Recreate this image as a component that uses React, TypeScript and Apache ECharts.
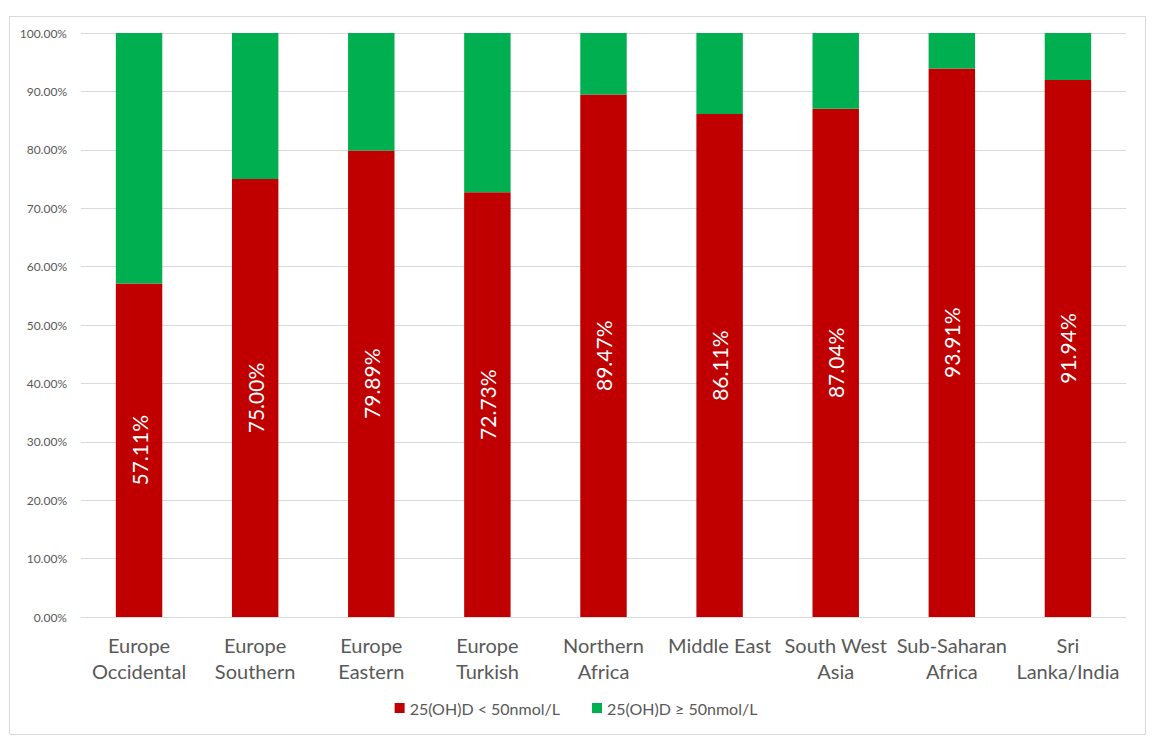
import React, { useEffect, useRef } from "react";
import * as echarts from "echarts";

const categories = [
  "Europe\nOccidental",
  "Europe\nSouthern",
  "Europe\nEastern",
  "Europe\nTurkish",
  "Northern\nAfrica",
  "Middle East",
  "South West\nAsia",
  "Sub-Saharan\nAfrica",
  "Sri\nLanka/India",
];
const below50 = [57.11, 75.0, 79.89, 72.73, 89.47, 86.11, 87.04, 93.91, 91.94];
const above50 = [42.89, 25.0, 20.11, 27.27, 10.53, 13.89, 12.96, 6.09, 8.06];
const seriesNames = ["25(OH)D < 50nmol/L", "25(OH)D ≥ 50nmol/L"];

const FONT = "Lato, 'Open Sans', sans-serif";

export default function App() {
  const ref = useRef<HTMLDivElement>(null);
  useEffect(() => {
    if (!ref.current) return;
    const chart = echarts.init(ref.current, null, { renderer: "svg" });
    chart.setOption({
      animation: false,
      backgroundColor: "#ffffff",
      textStyle: { fontFamily: FONT },
      graphic: [
        {
          type: "rect",
          shape: { x: 9.5, y: 16.5, width: 1136, height: 718 },
          style: { fill: "none", stroke: "#d9d9d9", lineWidth: 1 },
          silent: true,
        },
      ],
      grid: { left: 81, right: 26, top: 33, bottom: 125 },
      legend: {
        bottom: 21,
        left: "center",
        itemWidth: 10,
        itemHeight: 10,
        itemGap: 32,
        icon: "rect",
        textStyle: { color: "#595959", fontSize: 16, fontFamily: FONT },
        data: seriesNames,
      },
      xAxis: {
        type: "category",
        data: categories,
        axisLine: { lineStyle: { color: "#d9d9d9" } },
        axisTick: { show: false },
        axisLabel: {
          color: "#595959",
          fontSize: 20,
          lineHeight: 26,
          margin: 15,
          fontFamily: FONT,
          interval: 0,
        },
      },
      yAxis: {
        type: "value",
        min: 0,
        max: 100,
        interval: 10,
        axisLine: { show: false },
        axisTick: { show: false },
        splitLine: { lineStyle: { color: "#d9d9d9" } },
        axisLabel: {
          color: "#595959",
          fontSize: 12,
          margin: 14,
          fontFamily: FONT,
          formatter: (v: number) => v.toFixed(2) + "%",
        },
      },
      series: [
        {
          name: seriesNames[0],
          type: "bar",
          stack: "total",
          data: below50,
          barWidth: "40%",
          itemStyle: { color: "#c00000" },
          label: {
            show: true,
            position: "inside",
            rotate: 90,
            color: "#ffffff",
            fontSize: 21,
            fontFamily: FONT,
            formatter: (p: any) => p.value.toFixed(2) + "%",
          },
        },
        {
          name: seriesNames[1],
          type: "bar",
          stack: "total",
          data: above50,
          barWidth: "40%",
          itemStyle: { color: "#00b050" },
        },
      ],
    });
    return () => chart.dispose();
  }, []);
  return (
    <div
      ref={ref}
      style={{ position: "absolute", left: 0, top: 0, width: 1152, height: 742 }}
    />
  );
}
